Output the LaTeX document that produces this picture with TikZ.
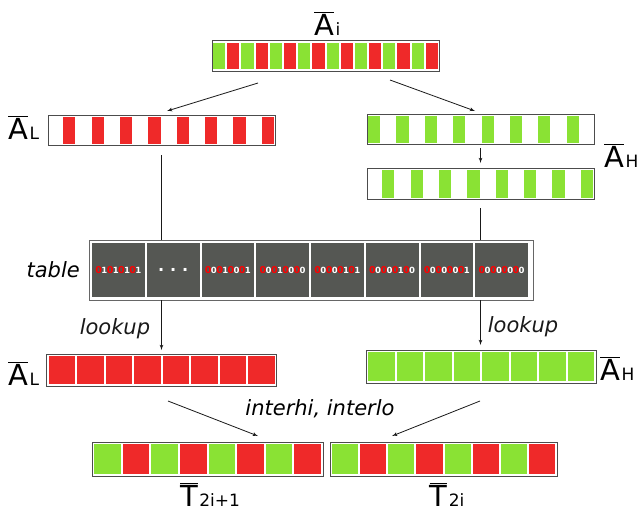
\documentclass[tikz,border=0pt]{standalone}
\usepackage{fontspec}
\setmainfont{DejaVu Sans}
\usetikzlibrary{arrows, positioning, calc}
\definecolor{hired}{HTML}{EF2929}
\definecolor{logreen}{HTML}{8AE234}
\definecolor{cellgray}{HTML}{555753}
\newcommand{\vname}[2]{{\fontsize{29}{30}\selectfont$\overline{\hbox{#1}}$}\,{\fontsize{17}{18}\selectfont#2}}
\newcommand{\rz}{{\fontsize{9.5}{10}\selectfont\textcolor{red}{0}}\kern-0.6pt}
\newcommand{\spread}[4]{\rz#1\kern-0.6pt\rz#2\kern-0.6pt\rz#3\kern-0.6pt\rz#4}

\begin{document}
\begin{tikzpicture}[x=1pt, y=-1pt, >=latex',
        vbox/.style={draw=black!70, line width=1pt, fill=white, inner sep=0pt, outer sep=0pt},
        line/.style={draw, black!90, line width=0.8pt, -latex'},
        tag/.style={font=\fontsize{21}{24}\selectfont\itshape, inner sep=2pt},
        vlabel/.style={inner sep=0pt, anchor=base west},
        bits/.style={font=\fontsize{8.5}{9}\selectfont\bfseries, text=white, inner sep=0pt}]
    \useasboundingbox (0,0) rectangle (639,512);

    % input vector
    \node [vbox, minimum width=227pt, minimum height=31pt] (Ai) at (325.5,55.5) {};
    \foreach \k in {0,...,15} {
        \pgfmathtruncatemacro{\odd}{mod(\k,2)}
        \ifnum\odd=0 \def\col{logreen}\else \def\col{hired}\fi
        \fill [\col] ({212+\k*227/16+1},42.5) rectangle ({212+(\k+1)*227/16-1},68.5);
    }
    \node [vlabel] (lblAi) at (314,35) {\vname{A}{i}};

    % split into low and high halves
    \node [vbox, minimum width=227pt, minimum height=30pt] (AL) at (161.5,130) {};
    \foreach \k in {1,3,...,15}
        \fill [hired] ({48+\k*227/16+1},116.5) rectangle ({48+(\k+1)*227/16-1},143.5);
    \node [vlabel] (lblAL) at (8,139) {\vname{A}{L}};

    \node [vbox, minimum width=227pt, minimum height=30pt] (AH) at (480.5,129) {};
    \foreach \k in {0,2,...,14}
        \fill [logreen] ({367+\k*227/16+1},115.5) rectangle ({367+(\k+1)*227/16-1},142.5);
    \node [vbox, minimum width=227pt, minimum height=31pt] (AH2) at (480.5,183.5) {};
    \foreach \k in {1,3,...,15}
        \fill [logreen] ({367+\k*227/16+1},169.5) rectangle ({367+(\k+1)*227/16-1},197.5);
    \node [vlabel] (lblAH) at (604,167) {\vname{A}{H}};

    % lookup table
    \node [vbox, draw=black!60, minimum width=444pt, minimum height=60pt] (tbl) at (311,270) {};
    \foreach \bitstr [count=\k from 0] in {\spread1111, {\fontsize{16}{16}\selectfont.\hspace{6pt}.\hspace{6pt}.}, \spread0101, \spread0100,
            \spread0011, \spread0010, \spread0001, \spread0000} {
        \fill [cellgray] ({92+\k*54.75},243) rectangle ({92+\k*54.75+52.75},297);
        \node [bits] (cell\k) at ({92+\k*54.75+26.4},270) {\bitstr};
    }
    \node [tag, anchor=east, xshift=-7pt] (lbltbl) at (tbl.west) {table};

    % looked-up halves
    \node [vbox, minimum width=230pt, minimum height=32pt] (ALr) at (161.5,370) {};
    \foreach \k in {0,...,7}
        \fill [hired] ({48.5+\k*28.5},356) rectangle ({48.5+\k*28.5+26.5},384);
    \node [vlabel] (lblALr) at (8,385) {\vname{A}{L}};

    \node [vbox, minimum width=230pt, minimum height=33pt] (AHr) at (481,366.5) {};
    \foreach \k in {0,...,7}
        \fill [logreen] ({368+\k*28.5},352) rectangle ({368+\k*28.5+26.5},381);
    \node [vlabel] (lblAHr) at (600,380) {\vname{A}{H}};

    % interleaved output
    \node [vbox, minimum width=231pt, minimum height=34pt] (T1) at (207.5,459) {};
    \node [vbox, minimum width=227pt, minimum height=34pt] (T2) at (443.5,459) {};
    \foreach \k in {0,...,7} {
        \pgfmathtruncatemacro{\odd}{mod(\k,2)}
        \ifnum\odd=0 \def\col{logreen}\else \def\col{hired}\fi
        \fill [\col] ({94+\k*28.625},444) rectangle ({94+\k*28.625+26.625},474);
        \fill [\col] ({332+\k*28.125},444) rectangle ({332+\k*28.125+26.125},474);
    }
    \node [vlabel, anchor=base] (lblT1) at (210,506) {\vname{T}{2i+1}};
    \node [vlabel, anchor=base] (lblT2) at (447,506) {\vname{T}{2i}};
    \node [tag] (ops) at (320,409) {interhi, interlo};

    \path [line] ([xshift=-67.5pt, yshift=-12pt]Ai.south) -- ([xshift=5.5pt, yshift=4pt]AL.north);
    \path [line] ([xshift=64.5pt, yshift=-9pt]Ai.south) -- ([xshift=-5.5pt, yshift=3pt]AH.north);
    \path [line] ([yshift=-4pt]AH.south) -- ([yshift=5pt]AH2.north);
    \draw [black!90, line width=0.8pt] ([yshift=-10pt]AL.south) -- (AL.south |- tbl.north);
    \draw [black!90, line width=0.8pt] ([yshift=-9pt]AH2.south) -- (AH2.south |- tbl.north);
    \path [line, shorten >=4pt] (AL.south |- tbl.south) -- node [tag, left=9pt, yshift=-2pt] {lookup} (AL.south |- ALr.north);
    \path [line, shorten >=5pt] (AH2.south |- tbl.south) -- node [tag, right=5pt, yshift=-2pt] {lookup} (AH2.south |- AHr.north);
    \path [line] ([xshift=6.5pt, yshift=-15pt]ALr.south) -- ([xshift=50.5pt, yshift=6pt]T1.north);
    \path [line] ([xshift=-1pt, yshift=-18pt]AHr.south) -- ([xshift=-51.5pt, yshift=6pt]T2.north);

\end{tikzpicture}
\end{document}
